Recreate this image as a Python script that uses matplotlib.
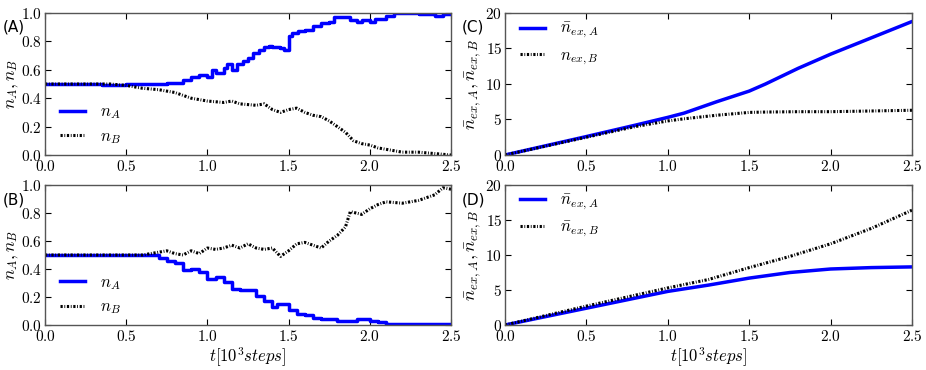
import matplotlib
matplotlib.use("Agg")
import matplotlib.pyplot as plt

plt.rcParams.update({
    "font.family": "serif",
    "font.serif": ["cmr10", "DejaVu Serif"],
    "mathtext.fontset": "cm",
    "axes.formatter.use_mathtext": True,
    "xtick.direction": "in",
    "ytick.direction": "in",
    "xtick.top": True,
    "ytick.right": True,
    "xtick.major.size": 4,
    "ytick.major.size": 4,
    "xtick.major.pad": 3,
    "ytick.major.pad": 2,
    "axes.linewidth": 1.0,
    "axes.edgecolor": "#555555",
    "lines.scale_dashes": False,
    "font.size": 11,
})

# Panel A
tA_a = [0.0, 0.3, 0.35, 0.5, 0.55, 0.75, 0.8, 0.85, 0.9, 0.95, 1.0, 1.03, 1.05, 1.1, 1.12, 1.15,
        1.18, 1.22, 1.25, 1.28, 1.32, 1.35, 1.38, 1.4, 1.45, 1.47, 1.5, 1.52, 1.56, 1.6, 1.65,
        1.7, 1.75, 1.78, 1.85, 1.88, 1.92, 1.95, 2.0, 2.03, 2.1, 2.15, 2.3, 2.4, 2.45, 2.5]
nA_a = [0.50, 0.50, 0.49, 0.50, 0.50, 0.51, 0.51, 0.53, 0.55, 0.56, 0.55, 0.60, 0.58, 0.61, 0.64, 0.60,
        0.64, 0.66, 0.68, 0.72, 0.74, 0.76, 0.77, 0.76, 0.75, 0.74, 0.84, 0.86, 0.87, 0.88, 0.91,
        0.93, 0.94, 0.97, 0.97, 0.95, 0.94, 0.95, 0.94, 0.96, 0.98, 1.00, 0.99, 0.98, 0.99, 1.00]
tB_a = [0.0, 0.4, 0.5, 0.6, 0.7, 0.8, 0.85, 0.9, 1.0, 1.1, 1.15, 1.2, 1.3, 1.35, 1.4, 1.45, 1.5,
        1.55, 1.6, 1.65, 1.7, 1.75, 1.8, 1.85, 1.9, 1.95, 2.0, 2.05, 2.1, 2.2, 2.3, 2.4, 2.5]
nB_a = [0.50, 0.50, 0.49, 0.47, 0.46, 0.44, 0.42, 0.40, 0.38, 0.37, 0.38, 0.36, 0.35, 0.36, 0.32, 0.30, 0.32,
        0.33, 0.30, 0.28, 0.27, 0.24, 0.20, 0.16, 0.10, 0.08, 0.07, 0.05, 0.04, 0.02, 0.02, 0.01, 0.00]

# Panel B
tA_b = [0.0, 0.65, 0.7, 0.75, 0.8, 0.85, 0.9, 0.95, 1.0, 1.05, 1.1, 1.15, 1.2, 1.25, 1.3, 1.35,
        1.4, 1.43, 1.5, 1.55, 1.6, 1.65, 1.7, 1.8, 1.9, 1.92, 2.0, 2.05, 2.1, 2.5]
nA_b = [0.50, 0.50, 0.48, 0.46, 0.44, 0.39, 0.40, 0.38, 0.33, 0.34, 0.31, 0.26, 0.25, 0.25, 0.21, 0.17,
        0.13, 0.15, 0.11, 0.08, 0.07, 0.05, 0.04, 0.03, 0.03, 0.04, 0.03, 0.02, 0.01, 0.01]
tB_b = [0.0, 0.5, 0.6, 0.7, 0.75, 0.8, 0.85, 0.9, 0.95, 1.0, 1.05, 1.1, 1.15, 1.2, 1.25, 1.3, 1.35,
        1.4, 1.45, 1.5, 1.55, 1.6, 1.65, 1.7, 1.75, 1.8, 1.85, 1.88, 1.95, 2.0, 2.05, 2.1, 2.2, 2.3,
        2.4, 2.45, 2.5]
nB_b = [0.50, 0.50, 0.50, 0.52, 0.53, 0.51, 0.50, 0.53, 0.51, 0.55, 0.54, 0.55, 0.57, 0.55, 0.58, 0.55, 0.54,
        0.55, 0.49, 0.53, 0.58, 0.59, 0.57, 0.55, 0.60, 0.64, 0.70, 0.81, 0.79, 0.83, 0.86, 0.88, 0.87, 0.89,
        0.93, 0.98, 0.97]

# Panel C
t_c = [0.0, 0.5, 0.8, 1.0, 1.1, 1.3, 1.5, 1.6, 1.8, 2.0, 2.25, 2.5]
exA_c = [0.0, 2.6, 4.2, 5.3, 5.9, 7.5, 9.0, 10.0, 12.2, 14.2, 16.5, 18.8]
exB_c = [0.0, 2.5, 4.0, 4.8, 5.1, 5.6, 6.0, 6.05, 6.1, 6.1, 6.2, 6.3]

# Panel D
t_d = [0.0, 0.5, 1.0, 1.25, 1.5, 1.75, 2.0, 2.25, 2.5]
exA_d = [0.0, 2.4, 4.8, 5.7, 6.7, 7.5, 8.0, 8.2, 8.3]
exB_d = [0.0, 2.7, 5.3, 6.5, 8.2, 9.8, 11.6, 13.8, 16.4]

fig = plt.figure(figsize=(9.26, 3.70), dpi=100)
axA = fig.add_axes([45/926, 1-155/370, 406/926, 142/370])
axB = fig.add_axes([45/926, 1-325/370, 406/926, 140/370])
axC = fig.add_axes([505/926, 1-155/370, 407/926, 142/370])
axD = fig.add_axes([505/926, 1-325/370, 407/926, 140/370])

blue = dict(color="#0000ff", lw=2.5, ls="-")
black = dict(color="black", lw=2.2, dashes=(1.6, 1.2, 0.6, 1.2))

leg_kw = dict(frameon=False, handlelength=1.5, handletextpad=0.9, fontsize=12, labelspacing=0.45)

for ax, (ta, na, tb, nb) in [(axA, (tA_a, nA_a, tB_a, nB_a)), (axB, (tA_b, nA_b, tB_b, nB_b))]:
    ax.plot(ta, na, label=r"$n_A$", drawstyle="steps-post", **blue)
    ax.plot(tb, nb, label=r"$n_B$", **black)
    ax.set_xlim(0, 2.5)
    ax.set_ylim(0, 1.0)
    ax.set_yticks([0.0, 0.2, 0.4, 0.6, 0.8, 1.0])
    ax.set_ylabel(r"$n_A, n_B$", labelpad=0, fontsize=12.5)
    ax.legend(loc="center left", bbox_to_anchor=(0.0, 0.21), **leg_kw)

axC.plot(t_c, exA_c, label=r"$\bar{n}_{ex,A}$", **blue)
axC.plot(t_c, exB_c, label=r"$n_{ex,B}$", **black)
axD.plot(t_d, exA_d, label=r"$\bar{n}_{ex,A}$", **blue)
axD.plot(t_d, exB_d, label=r"$\bar{n}_{ex,B}$", **black)
for ax in (axC, axD):
    ax.set_xlim(0, 2.5)
    ax.set_ylim(0, 20)
    ax.set_yticks([0, 5, 10, 15, 20])
    ax.set_ylabel(r"$\bar{n}_{ex,A}, \bar{n}_{ex,B}$", labelpad=1, fontsize=13)
    ax.legend(loc="center left", bbox_to_anchor=(0.0, 0.78), **leg_kw)

for ax in (axA, axB, axC, axD):
    ax.set_xticks([0.0, 0.5, 1.0, 1.5, 2.0, 2.5])
    ax.tick_params(labelsize=11)
for ax in (axB, axD):
    ax.set_xlabel(r"$t[10^3 steps]$", labelpad=1, fontsize=12)

for txt, x, y in [("(A)", 3, 27), ("(B)", 3, 200), ("(C)", 462, 27), ("(D)", 462, 200)]:
    fig.text(x/926, 1-y/370, txt, fontsize=11, family="DejaVu Sans", va="center", ha="left")

fig.savefig("out.png", dpi=100)
